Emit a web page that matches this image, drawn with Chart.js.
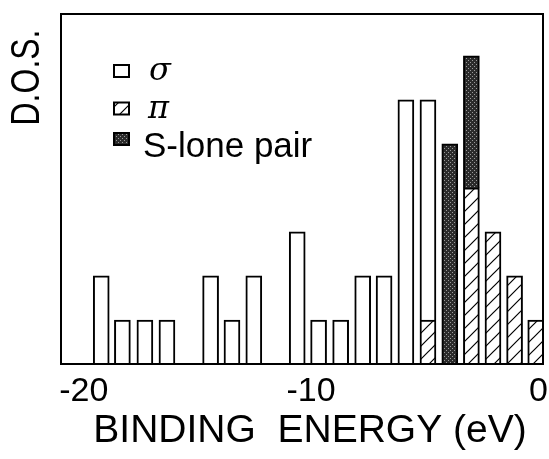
<!DOCTYPE html>
<html>
<head>
<meta charset="utf-8">
<script src="https://cdn.jsdelivr.net/npm/chart.js@4.4.0/dist/chart.umd.min.js"></script>
<style>
  html, body { margin: 0; padding: 0; background: #fff; }
  #chart { display: block; }
</style>
</head>
<body>
<canvas id="chart" width="549" height="459"></canvas>
<script>
// bin centres in eV left to right
const energies = [-19.23, -18.30, -17.31, -16.34, -14.42, -13.48, -12.52, -10.61, -9.67, -8.70, -7.73, -6.79, -5.83, -4.86, -3.90, -2.95, -2.00, -1.05, -0.12];
// D.O.S. counts per bin
const sigmaDos = [2, 1, 1, 1, 2, 1, 2, 3, 1, 1, 2, 2, 6, 5, 0, 0, 0, 0, 0];
const piDos    = [0, 0, 0, 0, 0, 0, 0, 0, 0, 0, 0, 0, 0, 1, 0, 4, 3, 2, 1];
const loneDos  = [0, 0, 0, 0, 0, 0, 0, 0, 0, 0, 0, 0, 0, 0, 5, 3, 0, 0, 0];
const seriesNames = ['σ', 'π', 'S-lone pair'];
const xTicks = [-20, -10, 0];
const xTitle = 'BINDING  ENERGY (eV)';
const yTitle = 'D.O.S.';

const sans = '"Liberation Sans", Arial, sans-serif';
var ctx = document.getElementById('chart').getContext('2d');

function hatchPattern() {
    var c = document.createElement('canvas');
    c.width = 13; c.height = 13;
    var g = c.getContext('2d');
    g.fillStyle = '#fff';
    g.fillRect(0, 0, 13, 13);
    g.strokeStyle = '#000';
    g.lineWidth = 1.2;
    g.beginPath();
    g.moveTo(-1, 14); g.lineTo(14, -1);
    g.moveTo(-1, 1); g.lineTo(1, -1);
    g.moveTo(12, 14); g.lineTo(14, 12);
    g.stroke();
    return ctx.createPattern(c, 'repeat');
}

function stipplePattern() {
    var c = document.createElement('canvas');
    c.width = 4; c.height = 4;
    var g = c.getContext('2d');
    g.fillStyle = '#2b2b2b';
    g.fillRect(0, 0, 4, 4);
    g.fillStyle = '#9a9a9a';
    g.fillRect(0, 0, 1, 1);
    g.fillRect(2, 2, 1, 1);
    return ctx.createPattern(c, 'repeat');
}

const hatch = hatchPattern();
const stipple = stipplePattern();

function points(values) {
    return energies.map((e, i) => ({x: e, y: values[i] === 0 ? null : values[i]}));
}

// frame, legend and the two axis titles
const extras = {
    id: 'extras',
    afterDraw(chart) {
        const c = chart.ctx;
        const a = chart.chartArea;
        c.save();
        c.strokeStyle = '#000';
        c.lineWidth = 2;
        c.strokeRect(a.left, a.top, a.right - a.left, a.bottom - a.top);

        const greek = 'italic 32px "DejaVu Serif", serif';
        const rows = [
            {fill: '#fff', font: greek, boxY: 71, textX: 149, baseY: 80},
            {fill: hatch, font: greek, boxY: 108.5, textX: 148, baseY: 118},
            {fill: stipple, font: '35px ' + sans, boxY: 139, textX: 143, baseY: 157}
        ];
        rows.forEach((r, i) => {
            c.fillStyle = r.fill;
            c.fillRect(114, r.boxY - 6, 15, 12);
            c.lineWidth = 2;
            c.strokeRect(114, r.boxY - 6, 15, 12);
            c.fillStyle = '#000';
            c.font = r.font;
            c.textAlign = 'left';
            c.textBaseline = 'alphabetic';
            c.fillText(seriesNames[i], r.textX, r.baseY);
        });

        c.font = '39px ' + sans;
        c.textAlign = 'center';
        c.fillText(xTitle, 310, 442);

        c.translate(28, 77.5);
        c.rotate(-Math.PI / 2);
        c.scale(0.78, 1);
        c.font = '41px ' + sans;
        c.textBaseline = 'middle';
        c.fillText(yTitle, 0, 0);
        c.restore();
    }
};

const chart = new Chart(ctx, {
    type: 'bar',
    data: {
        datasets: [
            {label: seriesNames[1], data: points(piDos), backgroundColor: hatch},
            {label: seriesNames[2], data: points(loneDos), backgroundColor: stipple},
            {label: seriesNames[0], data: points(sigmaDos), backgroundColor: '#fff'}
        ]
    },
    options: {
        responsive: false,
        animation: false,
        layout: {padding: {left: 61, right: 6, top: 14, bottom: 0}},
        datasets: {
            bar: {barThickness: 16, borderWidth: 2, borderColor: '#000'}
        },
        plugins: {
            legend: {display: false},
            tooltip: {enabled: false}
        },
        scales: {
            x: {
                type: 'linear',
                min: -21,
                max: 0.2,
                offset: false,
                stacked: true,
                grid: {display: false, drawTicks: false, offset: false},
                border: {display: false},
                afterBuildTicks: s => { s.ticks = xTicks.map(v => ({value: v})); },
                ticks: {color: '#000', padding: 7, maxRotation: 0, autoSkip: false, font: {family: sans, size: 34}},
                afterFit: s => { s.paddingLeft = 0; s.paddingRight = 0; s.height = 95; }
            },
            y: {display: false, min: 0, max: 7.95, stacked: true}
        }
    },
    plugins: [extras]
});
</script>
</body>
</html>
